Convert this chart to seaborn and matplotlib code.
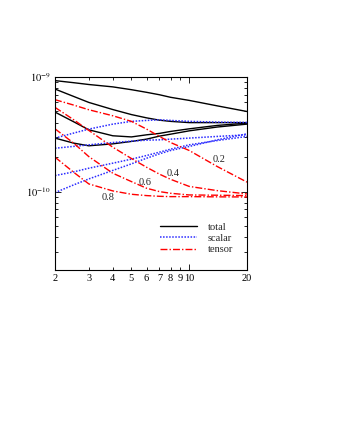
import matplotlib
matplotlib.use("Agg")
import matplotlib.pyplot as plt
import seaborn as sns
import numpy as np
import pandas as pd
from matplotlib.ticker import NullFormatter, FixedLocator, FixedFormatter

sns.set_style("ticks")
plt.rcParams['font.family'] = ['Liberation Serif', 'DejaVu Serif']
plt.rcParams['mathtext.fontset'] = 'stix'

x = [2, 2.5, 3, 4, 5, 6, 7, 8, 10, 14, 20]
params = ["0.2", "0.4", "0.6", "0.8"]

total_02 = [0.93, 0.892, 0.86, 0.82, 0.775, 0.735, 0.70, 0.665, 0.625, 0.56, 0.50]
total_04 = [0.785, 0.677, 0.60, 0.52, 0.47, 0.44, 0.42, 0.41, 0.40, 0.40, 0.40]
total_06 = [0.494, 0.407, 0.346, 0.307, 0.30, 0.313, 0.322, 0.335, 0.353, 0.378, 0.396]
total_08 = [0.293, 0.265, 0.251, 0.261, 0.274, 0.287, 0.305, 0.317, 0.339, 0.366, 0.388]

scalar_02 = [0.293, 0.324, 0.351, 0.388, 0.41, 0.418, 0.423, 0.418, 0.41, 0.404, 0.401]
scalar_04 = [0.239, 0.248, 0.256, 0.268, 0.2756, 0.281, 0.283, 0.287, 0.293, 0.303, 0.313]
scalar_06 = [0.138, 0.1486, 0.16, 0.177, 0.192, 0.2065, 0.221, 0.2346, 0.256, 0.279, 0.303]
scalar_08 = [0.098, 0.1144, 0.129, 0.153, 0.1746, 0.1956, 0.2136, 0.2285, 0.2476, 0.283, 0.3195]

tensor_02 = [0.634, 0.569, 0.518, 0.459, 0.41, 0.351, 0.303, 0.268, 0.2285, 0.1655, 0.121]
tensor_04 = [0.543, 0.424, 0.342, 0.244, 0.1945, 0.163, 0.142, 0.128, 0.111, 0.102, 0.0954]
tensor_06 = [0.353, 0.265, 0.202, 0.1447, 0.1223, 0.107, 0.100, 0.0967, 0.0935, 0.093, 0.0923]
tensor_08 = [0.1997, 0.1476, 0.1167, 0.1014, 0.0948, 0.0923, 0.091, 0.0904, 0.0904, 0.090, 0.0898]

label_x = [14.35, 8.26, 5.89, 3.79]
label_y = [1.89e-10, 1.446e-10, 1.198e-10, 8.86e-11]

minor_x_ticks = [2, 3, 4, 5, 6, 7, 8, 9, 20]
minor_x_labels = ["2", "3", "4", "5", "6", "7", "8", "9", "20"]

series = {
    "total": [total_02, total_04, total_06, total_08],
    "scalar": [scalar_02, scalar_04, scalar_06, scalar_08],
    "tensor": [tensor_02, tensor_04, tensor_06, tensor_08],
}
rows = []
for kind, lst in series.items():
    for p, vals in zip(params, lst):
        for xi, v in zip(x, vals):
            rows.append({"x": xi, "y": v * 1e-9, "kind": kind, "param": p})
df = pd.DataFrame(rows)

styles = {
    "total": dict(color="black", linestyle="-", lw=1.0),
    "scalar": dict(color="#2b2bff", linestyle=(0, (1, 1)), lw=1.1),
    "tensor": dict(color="red", linestyle=(0, (5, 1.5, 1, 1.5)), lw=1.0),
}

fig = plt.figure(figsize=(3.37, 4.36), dpi=100)
ax = fig.add_axes([55/337, 1-270/436, 192/337, 193/436])

for kind in ["total", "scalar", "tensor"]:
    for i, p in enumerate(params):
        sub = df[(df.kind == kind) & (df.param == p)]
        sns.lineplot(data=sub, x="x", y="y", ax=ax, sort=True,
                     label=kind if i == 0 else None, **styles[kind])

ax.set_xscale("log")
ax.set_yscale("log")
ax.set_xlim(2, 20)
ax.set_ylim(2.07e-11, 1e-9)

ax.xaxis.set_major_locator(FixedLocator([10]))
ax.xaxis.set_major_formatter(FixedFormatter(["10"]))
ax.xaxis.set_minor_locator(FixedLocator(minor_x_ticks))
ax.xaxis.set_minor_formatter(FixedFormatter(minor_x_labels))

ax.yaxis.set_major_locator(FixedLocator([1e-10, 1e-9]))
ax.yaxis.set_major_formatter(FixedFormatter([r"$10^{-10}$", r"$10^{-9}$"]))
ax.yaxis.set_minor_locator(FixedLocator([k * 1e-11 for k in range(3, 10)] + [k * 1e-10 for k in range(2, 10)]))
ax.yaxis.set_minor_formatter(NullFormatter())

ax.tick_params(which="both", direction="in", top=True, right=True, labelsize=7.5,
               width=0.6, pad=3, colors="black")
ax.tick_params(which="major", length=4)
ax.tick_params(which="minor", length=2.5)
for s in ax.spines.values():
    s.set_linewidth(0.8)
    s.set_color("black")

ax.set_xlabel("")
ax.set_ylabel("")

for t, lx, ly in zip(params, label_x, label_y):
    ax.text(lx, ly, t, fontsize=7.5, ha="center", va="center")

leg = ax.legend(loc="lower right", bbox_to_anchor=(0.95, 0.06), frameon=False,
                fontsize=7.5, handlelength=3.6, labelspacing=0.2, handletextpad=1.0,
                borderaxespad=0)

fig.savefig("out.png", dpi=100)
